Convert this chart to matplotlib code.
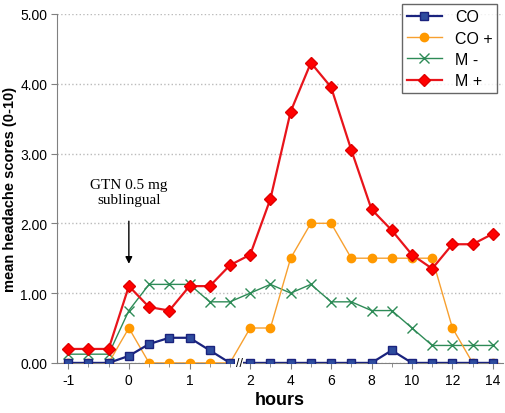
import numpy as np
import matplotlib.pyplot as plt

plt.rcParams['font.family'] = ['Liberation Sans', 'DejaVu Sans']

# time points (hours), plotted as evenly spaced categories
hours = [-1, -0.67, -0.33, 0, 0.33, 0.67, 1, 1.33, 1.67,
         2, 3, 4, 5, 6, 7, 8, 9, 10, 11, 12, 13, 14]
tick_hours = [-1, 0, 1, 2, 4, 6, 8, 10, 12, 14]

co = [0, 0, 0, 0.1, 0.27, 0.36, 0.36, 0.18, 0,
      0, 0, 0, 0, 0, 0, 0, 0.18, 0, 0, 0, 0, 0]
co_plus = [0, 0, 0, 0.5, 0, 0, 0, 0, 0,
           0.5, 0.5, 1.5, 2.0, 2.0, 1.5, 1.5, 1.5, 1.5, 1.5, 0.5, 0, 0]
m_minus = [0.125, 0.125, 0.125, 0.75, 1.125, 1.125, 1.125, 0.875, 0.875,
           1.0, 1.125, 1.0, 1.125, 0.875, 0.875, 0.75, 0.75, 0.5, 0.25, 0.25, 0.25, 0.25]
m_plus = [0.2, 0.2, 0.2, 1.1, 0.8, 0.75, 1.1, 1.1, 1.4,
          1.55, 2.35, 3.6, 4.3, 3.95, 3.05, 2.2, 1.9, 1.55, 1.35, 1.7, 1.7, 1.85]

x = np.arange(len(hours))
tick_pos = [hours.index(h) for h in tick_hours]

fig = plt.figure(figsize=(5.05, 4.14), dpi=100)
ax = fig.add_axes([0.113, 0.121, 0.883, 0.843])

ax.plot(x, m_minus, color='#2E8B57', lw=1, marker='x', ms=7, mew=1, label='M -', zorder=3)
ax.plot(x, co_plus, color='#F7A030', lw=1, marker='o', ms=6, mfc='#FF9900', mec='#FF9900', label='CO +', zorder=4)
ax.plot(x, m_plus, color='#E8141B', lw=1.6, marker='D', ms=6, mfc='#FF0000', mec='#E00000', label='M +', zorder=5)
ax.plot(x, co, color='#1A237E', lw=1.6, marker='s', ms=6, mfc='#2E4C9E', mec='#1A237E', label='CO', zorder=6)

ax.set_xlim(-0.55, 21.5)
ax.set_ylim(0, 5)
ax.set_yticks(np.arange(0, 5.01, 1))
ax.set_yticklabels(['%.2f' % v for v in np.arange(0, 5.01, 1)], fontsize=10)
ax.set_xticks(tick_pos)
ax.set_xticklabels([str(h) for h in tick_hours], fontsize=10)
ax.set_xticks(x, minor=True)
ax.tick_params(axis='x', which='minor', length=3, color='#808080')
ax.tick_params(axis='both', which='major', length=4, color='#808080', pad=3)
ax.yaxis.grid(True, ls=':', color='#BBBBBB', lw=1)
ax.set_axisbelow(True)
for s in ['top', 'right']:
    ax.spines[s].set_visible(False)
for s in ['left', 'bottom']:
    ax.spines[s].set_color('#808080')

ax.set_ylabel('mean headache scores (0-10)', fontsize=10.5, fontweight='bold')
ax.yaxis.set_label_coords(-0.09, 0.5)
ax.set_xlabel('hours', fontsize=13, fontweight='bold', labelpad=3)

# axis break marker
ax.text(8.45, 0, '//', fontsize=9, ha='center', va='center', zorder=7,
        bbox=dict(boxstyle='square,pad=0.05', fc='white', ec='none'))

# GTN annotation
ax.annotate('', xy=(3, 1.38), xytext=(3, 2.07),
            arrowprops=dict(arrowstyle='-|>', color='black', lw=1, mutation_scale=10))
ax.text(3, 2.45, 'GTN 0.5 mg\nsublingual', family='Liberation Serif', fontsize=11,
        ha='center', va='center', linespacing=1.15)

handles, labels = ax.get_legend_handles_labels()
order = [3, 1, 0, 2]
leg = ax.legend([handles[i] for i in order], [labels[i] for i in order],
                loc='upper right', bbox_to_anchor=(1.005, 1.05), fontsize=11.5,
                frameon=True, fancybox=False, edgecolor='#404040',
                handlelength=2.2, borderpad=0.3, labelspacing=0.4)

fig.savefig('out.png', dpi=100)
